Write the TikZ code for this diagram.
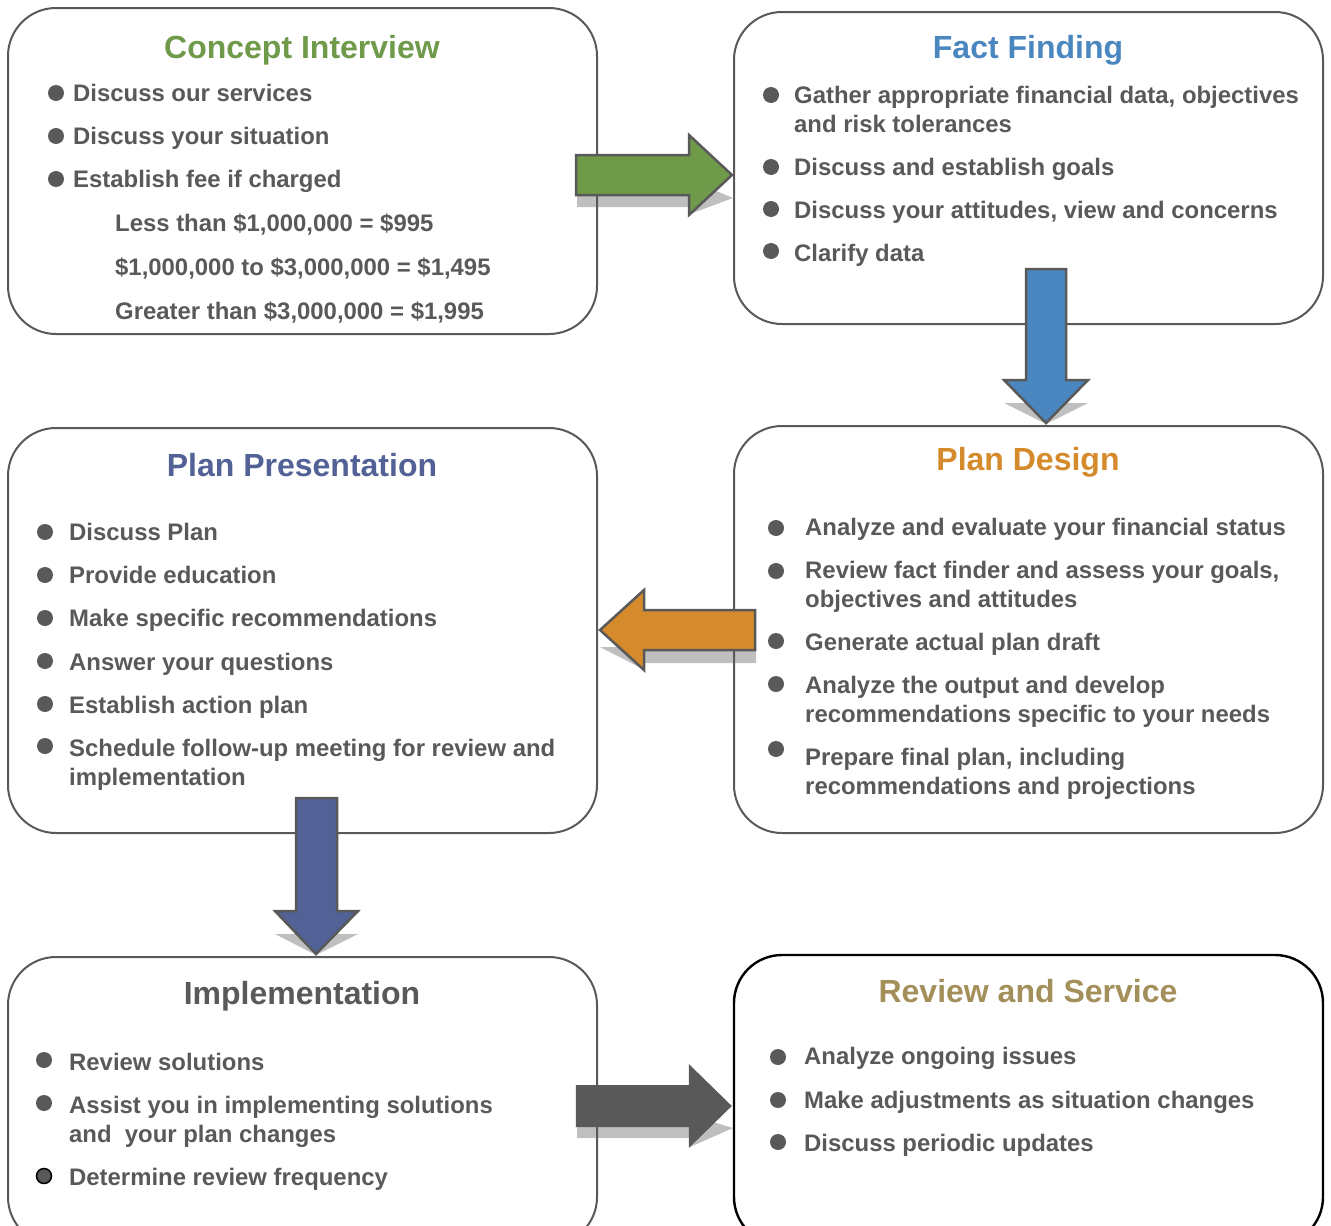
\documentclass[tikz,border=0pt]{standalone}
\usepackage{fontspec}
\setmainfont{Liberation Sans}
\usetikzlibrary{calc}

\definecolor{linegray}{HTML}{595959}
\definecolor{txtgray}{HTML}{595959}
\definecolor{shadowgray}{HTML}{BFBFBF}
\definecolor{cgreen}{HTML}{6E9A4A}
\definecolor{cblue}{HTML}{4A86C0}
\definecolor{corange}{HTML}{D58A2B}
\definecolor{cnavy}{HTML}{536296}
\definecolor{ckhaki}{HTML}{A38F5A}

\newcommand\itemfnt{\fontsize{23.9}{29}\selectfont\bfseries}
\newcommand\titlefnt{\fontsize{32}{36}\selectfont\bfseries}

\tikzset{
  box/.style={draw=linegray, line width=2pt, rounded corners=48pt,
    minimum width=589pt, inner sep=0pt},
  ttl/.style={font=\titlefnt, anchor=base, inner sep=0pt},
  item/.style={font=\itemfnt, text=txtgray, anchor=base west, inner sep=0pt},
  dot/.style={circle, fill=txtgray, minimum size=16pt, inner sep=0pt},
  blockarrow/.style={draw=linegray, line width=2.5pt, line join=miter},
  shade/.style={fill=shadowgray},
}

\begin{document}
\begin{tikzpicture}[x=1pt, y=-1pt]
\useasboundingbox (0,0) rectangle (1331,1226);
\clip (0,0) rectangle (1331,1226);

% soft shadows under the block arrows
\fill[shade] (577,183) -- (690,183) -- (690,180) -- (733,198) -- (690,214) -- (690,207) -- (577,207) -- cycle;
\fill[shade] (1004,403) -- (1088,403) -- (1046,424) -- cycle;
\fill[shade] (600,647) -- (756,647) -- (756,663) -- (643,663) -- (643,669) -- cycle;
\fill[shade] (275,934) -- (358,934) -- (316,955) -- cycle;
\fill[shade] (577,1115) -- (690,1115) -- (733,1128) -- (690,1147) -- (690,1138) -- (577,1138) -- cycle;

% the six stage boxes
\node[box, minimum height=326pt] (ci) at (302.5,171) {};
\node[box, minimum height=312pt] (ff) at (1028.5,168) {};
\node[box, minimum height=405pt] (pp) at (302.5,630.5) {};
\node[box, minimum height=407pt] (pd) at (1028.5,629.5) {};
\node[box, minimum height=288pt] (im) at (302.5,1101) {};
\node[box, draw=black, line width=2.4pt, minimum height=290pt] (rs) at (1028.5,1100) {};

% block arrows between the stages
\coordinate (t1) at (ff.west |- 0,175);
\filldraw[blockarrow, fill=cgreen, shift={($(t1)+(-1,0)$)}]
  (-156,-20) -- (-43,-20) -- (-43,-40) -- (0,0) -- (-43,40) -- (-43,20) -- (-156,20) -- cycle;

\coordinate (t2) at (pd.north -| 1046,0);
\filldraw[blockarrow, fill=cblue, shift={($(t2)+(0,-2)$)}]
  (-20,-154) -- (20,-154) -- (20,-43) -- (42,-43) -- (0,0) -- (-42,-43) -- (-20,-43) -- cycle;

\coordinate (t3) at (pp.east |- 0,630);
\filldraw[blockarrow, fill=corange, shift={($(t3)+(2,0)$)}]
  (155,-20) -- (44,-20) -- (44,-40) -- (0,0) -- (44,40) -- (44,20) -- (155,20) -- cycle;

\coordinate (t4) at (im.north -| 316,0);
\filldraw[blockarrow, fill=cnavy, shift={($(t4)+(0,-2)$)}]
  (-20,-156) -- (21,-156) -- (21,-43) -- (42,-43) -- (0,0) -- (-41,-43) -- (-20,-43) -- cycle;

\coordinate (t5) at (rs.west |- 0,1106);
\fill[linegray, shift={($(t5)+(-1,0)$)}]
  (-156,-21) -- (-43,-21) -- (-43,-42) -- (0,0) -- (-43,42) -- (-43,21) -- (-156,21) -- cycle;

% Concept Interview
\node[ttl, text=cgreen] (ci-t) at (302,58.5) {Concept Interview};
\node[dot] (ci-d1) at (56,93) {};
\node[dot] (ci-d2) at (56,136) {};
\node[dot] (ci-d3) at (56,179) {};
\node[item] (ci-1) at (73,101.5) {Discuss our services};
\node[item] (ci-2) at (73,144.5) {Discuss your situation};
\node[item] (ci-3) at (73,187.5) {Establish fee if charged};
\node[item] (ci-4) at (115,231.5) {Less than \$1,000,000 = \$995};
\node[item] (ci-5) at (115,275.5) {\$1,000,000 to \$3,000,000 = \$1,495};
\node[item] (ci-6) at (115,319.5) {Greater than \$3,000,000 = \$1,995};

% Fact Finding
\node[ttl, text=cblue] (ff-t) at (1028,58.5) {Fact Finding};
\node[dot] (ff-d1) at (771,95) {};
\node[dot] (ff-d2) at (771,167) {};
\node[dot] (ff-d3) at (771,209) {};
\node[dot] (ff-d4) at (771,251) {};
\node[item] (ff-1) at (794,103.5) {Gather appropriate financial data, objectives};
\node[item] (ff-1b) at (794,132.5) {and risk tolerances};
\node[item] (ff-2) at (794,175.5) {Discuss and establish goals};
\node[item] (ff-3) at (794,218.5) {Discuss your attitudes, view and concerns};
\node[item] (ff-4) at (794,261.5) {Clarify data};

% Plan Presentation
\node[ttl, text=cnavy] (pp-t) at (302,476.5) {Plan Presentation};
\node[dot] (pp-d1) at (45,532) {};
\node[dot] (pp-d2) at (45,575) {};
\node[dot] (pp-d3) at (45,618) {};
\node[dot] (pp-d4) at (45,661) {};
\node[dot] (pp-d5) at (45,704) {};
\node[dot] (pp-d6) at (45,746) {};
\node[item] (pp-1) at (69,540.5) {Discuss Plan};
\node[item] (pp-2) at (69,583.5) {Provide education};
\node[item] (pp-3) at (69,626.5) {Make specific recommendations};
\node[item] (pp-4) at (69,670.5) {Answer your questions};
\node[item] (pp-5) at (69,713.5) {Establish action plan};
\node[item] (pp-6) at (69,756.5) {Schedule follow-up meeting for review and};
\node[item] (pp-6b) at (69,785.5) {implementation};

% Plan Design
\node[ttl, text=corange] (pd-t) at (1028,470.5) {Plan Design};
\node[dot] (pd-d1) at (776,528) {};
\node[dot] (pd-d2) at (776,571) {};
\node[dot] (pd-d3) at (776,641) {};
\node[dot] (pd-d4) at (776,684) {};
\node[dot] (pd-d5) at (776,749) {};
\node[item] (pd-1) at (805,535.5) {Analyze and evaluate your financial status};
\node[item] (pd-2) at (805,578.5) {Review fact finder and assess your goals,};
\node[item] (pd-2b) at (805,607.5) {objectives and attitudes};
\node[item] (pd-3) at (805,650.5) {Generate actual plan draft};
\node[item] (pd-4) at (805,693.5) {Analyze the output and develop};
\node[item] (pd-4b) at (805,722.5) {recommendations specific to your needs};
\node[item] (pd-5) at (805,765.5) {Prepare final plan, including};
\node[item] (pd-5b) at (805,794.5) {recommendations and projections};

% Implementation
\node[ttl, text=txtgray] (im-t) at (302,1004.5) {Implementation};
\node[dot] (im-d1) at (44,1060) {};
\node[dot] (im-d2) at (44,1103) {};
\node[dot, draw=black, line width=1.5pt, minimum size=15pt] (im-d3) at (44,1176) {};
\node[item] (im-1) at (69,1070.5) {Review solutions};
\node[item] (im-2) at (69,1113.5) {Assist you in implementing solutions};
\node[item] (im-2b) at (69,1142.5) {and\ \ your plan changes};
\node[item] (im-3) at (69,1185.5) {Determine review frequency};

% Review and Service
\node[ttl, text=ckhaki] (rs-t) at (1028,1002.5) {Review and Service};
\node[dot] (rs-d1) at (778,1057) {};
\node[dot] (rs-d2) at (778,1100) {};
\node[dot] (rs-d3) at (778,1142) {};
\node[item] (rs-1) at (804,1064.5) {Analyze ongoing issues};
\node[item] (rs-2) at (804,1108.5) {Make adjustments as situation changes};
\node[item] (rs-3) at (804,1151.5) {Discuss periodic updates};
\end{tikzpicture}
\end{document}
